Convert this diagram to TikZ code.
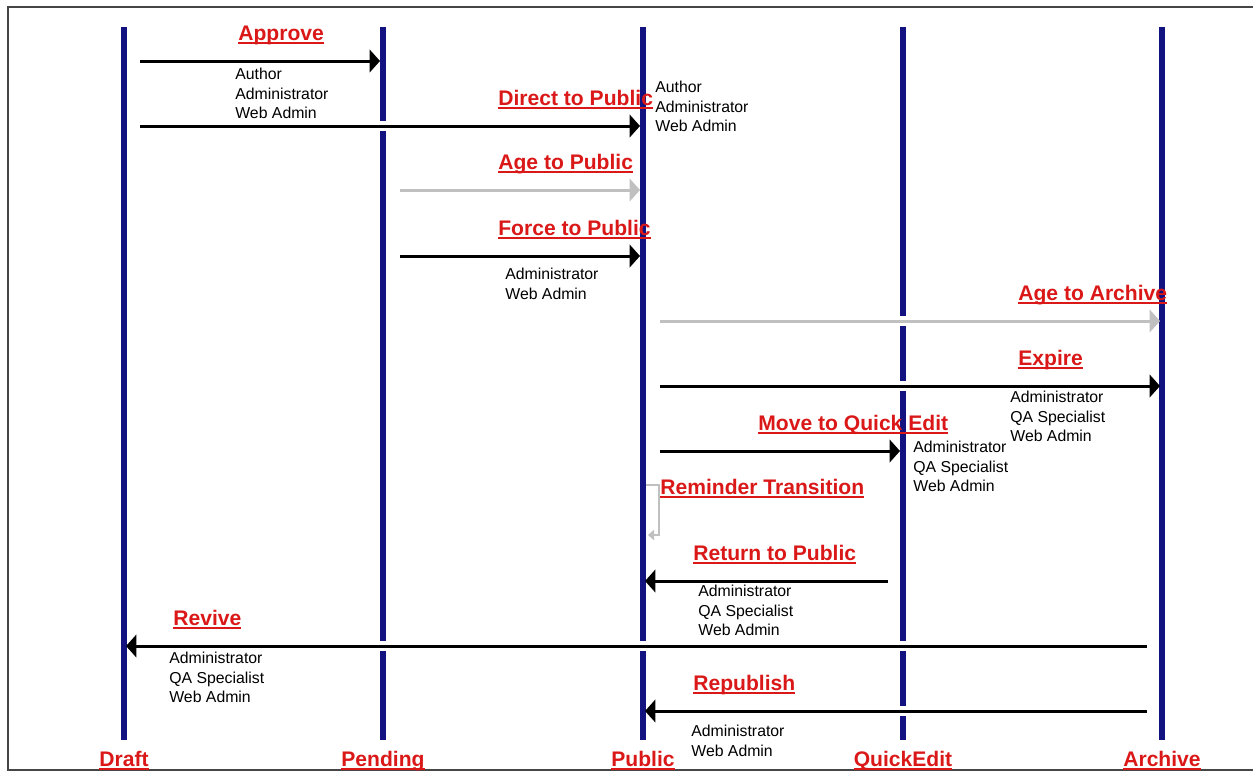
\documentclass[tikz,border=0pt]{standalone}
\usepackage{fontspec}
\setmainfont{Liberation Sans}
\usetikzlibrary{arrows.meta, positioning, calc}

\definecolor{lifeblue}{RGB}{18,18,128}
\definecolor{labelred}{RGB}{218,24,24}
\definecolor{agegray}{RGB}{192,192,192}
\definecolor{framegray}{RGB}{70,70,70}

\newcommand{\redline}[1]{\setbox0\hbox{#1}\rlap{\rule[-2pt]{\wd0}{1.1pt}}\box0}

\begin{document}
\begin{tikzpicture}[
        x=0.02cm, y=-0.02cm,
        lifeline/.style={draw=lifeblue, line width=2.9pt},
        state/.style={font=\bfseries\fontsize{12}{14}\selectfont, text=labelred, inner sep=0pt, anchor=base},
        trans/.style={font=\bfseries\fontsize{12}{14}\selectfont, text=labelred, inner sep=0pt, anchor=base west},
        roles/.style={font=\fontsize{9}{11}\selectfont, align=left, inner sep=0pt, anchor=north west},
        arrow/.style={line width=1.7pt, -{Triangle[length=5.9pt, width=12.8pt]},
            preaction={draw=white, line width=5.7pt, -, shorten >=6pt}},
        agearrow/.style={arrow, draw=agegray},
        loop/.style={draw=agegray, line width=0.6pt, -{Triangle[length=3.5pt, width=6pt]}}
    ]
        \useasboundingbox (0,0) rectangle (1253,772);
        \draw [framegray, line width=1.2pt] (1253,7) -- (8,7) -- (8,770) -- (1253,770);

        % lifelines
        \coordinate (draft top) at (124,27);
        \coordinate (draft bot) at (124,740);
        \coordinate (pending top) at (383,27);
        \coordinate (pending bot) at (383,740);
        \coordinate (public top) at (643,27);
        \coordinate (public bot) at (643,740);
        \coordinate (quick top) at (903,27);
        \coordinate (quick bot) at (903,740);
        \coordinate (archive top) at (1162,27);
        \coordinate (archive bot) at (1162,740);

        \draw [lifeline] (draft top) -- (draft bot);
        \draw [lifeline] (pending top) -- (pending bot);
        \draw [lifeline] (public top) -- (public bot);
        \draw [lifeline] (quick top) -- (quick bot);
        \draw [lifeline] (archive top) -- (archive bot);

        \node (draft) [state] at (124,766) {\redline{Draft}};
        \node (pending) [state] at (383,766) {\redline{Pending}};
        \node (public) [state] at (643,766) {\redline{Public}};
        \node (quick) [state] at (903,766) {\redline{QuickEdit}};
        \node (archive) [state] at (1162,766) {\redline{Archive}};

        % arrow ends
        \coordinate (approve from) at (140,61);
        \coordinate (approve to) at (380,61);
        \coordinate (direct from) at (140,126);
        \coordinate (direct to) at (640,126);
        \coordinate (agepub from) at (400,190);
        \coordinate (agepub to) at (640,190);
        \coordinate (force from) at (400,256);
        \coordinate (force to) at (640,256);
        \coordinate (agearch from) at (660,321);
        \coordinate (agearch to) at (1160,321);
        \coordinate (expire from) at (660,386);
        \coordinate (expire to) at (1160,386);
        \coordinate (move from) at (660,451);
        \coordinate (move to) at (900,451);
        \coordinate (remind from) at (646,485);
        \coordinate (remind mid) at (659,535);
        \coordinate (remind to) at (648,535);
        \coordinate (return from) at (888,581);
        \coordinate (return to) at (645,581);
        \coordinate (revive from) at (1147,646);
        \coordinate (revive to) at (126,646);
        \coordinate (repub from) at (1147,711);
        \coordinate (repub to) at (645,711);

        \draw [arrow] (approve from) -- (approve to);
        \draw [arrow] (direct from) -- (direct to);
        \draw [agearrow] (agepub from) -- (agepub to);
        \draw [arrow] (force from) -- (force to);
        \draw [agearrow] (agearch from) -- (agearch to);
        \draw [arrow] (expire from) -- (expire to);
        \draw [arrow] (move from) -- (move to);
        \draw [loop] (remind from) -| (remind mid) -- (remind to);
        \draw [arrow] (return from) -- (return to);
        \draw [arrow] (revive from) -- (revive to);
        \draw [arrow] (repub from) -- (repub to);

        % transition names
        \node (approve) [trans] at (238,40) {\redline{Approve}};
        \node (direct) [trans] at (498,105) {\redline{Direct to Public}};
        \node (agepub) [trans] at (498,169) {\redline{Age to Public}};
        \node (force) [trans] at (498,235) {\redline{Force to Public}};
        \node (agearch) [trans] at (1018,300) {\redline{Age to Archive}};
        \node (expire) [trans] at (1018,365) {\redline{Expire}};
        \node (move) [trans] at (758,430) {\redline{Move to Quick Edit}};
        \node (remind) [trans] at (660,494) {\redline{Reminder Transition}};
        \node (return) [trans] at (693,560) {\redline{Return to Public}};
        \node (revive) [trans] at (173,625) {\redline{Revive}};
        \node (repub) [trans] at (693,690) {\redline{Republish}};

        % who may do it
        \node (approve who) [roles] at (235,68) {Author\\Administrator\\Web Admin};
        \node (direct who) [roles] at (655,81) {Author\\Administrator\\Web Admin};
        \node (force who) [roles] at (505,268) {Administrator\\Web Admin};
        \node (expire who) [roles] at (1010,391) {Administrator\\QA Specialist\\Web Admin};
        \node (move who) [roles] at (913,441) {Administrator\\QA Specialist\\Web Admin};
        \node (return who) [roles] at (698,585) {Administrator\\QA Specialist\\Web Admin};
        \node (revive who) [roles] at (169,652) {Administrator\\QA Specialist\\Web Admin};
        \node (repub who) [roles] at (691,725) {Administrator\\Web Admin};
    \end{tikzpicture}
\end{document}
